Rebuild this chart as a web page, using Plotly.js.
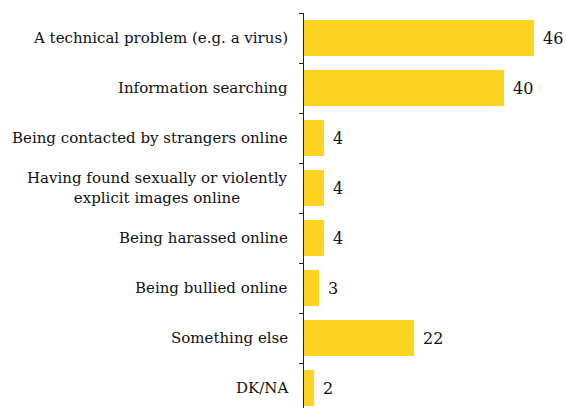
<!DOCTYPE html>
<html><head><meta charset="utf-8">
<script src="https://cdn.plot.ly/plotly-3.0.1.min.js"></script>
<style>body{margin:0;background:#fff}#c{width:566px;height:408px}</style>
</head><body><div id="c"></div>
<script>
const categories = ["A technical problem (e.g. a virus)","Information searching","Being contacted by strangers online","Having found sexually or violently<br>explicit images online","Being harassed online","Being bullied online","Something else","DK/NA"];
const values = [46,40,4,4,4,3,22,2];
const barColor = "#FDD422";
const font = "DejaVu Serif";
const ann = [];
categories.forEach((c,i)=>{
  ann.push({x:0,xref:'x',y:c,yref:'y',text:c,showarrow:false,xanchor:'right',align:'center',xshift:-14,font:{family:font,size:15,color:'#111'}});
  ann.push({x:values[i],xref:'x',y:c,yref:'y',text:String(values[i]),showarrow:false,xanchor:'left',xshift:7,font:{family:font,size:16,color:'#111'}});
});
Plotly.newPlot('c',[{type:'bar',orientation:'h',y:categories,x:values,marker:{color:barColor},hoverinfo:'none'}],{
  width:566,height:408,margin:{l:304,r:0,t:13,b:0},
  paper_bgcolor:'#fff',plot_bgcolor:'#fff',bargap:0.28,showlegend:false,
  xaxis:{range:[0,52.4],visible:false,fixedrange:true},
  yaxis:{type:'category',range:[7.4,-0.5],showticklabels:false,showline:true,linecolor:'#222',linewidth:1,ticks:'outside',tickson:'boundaries',ticklen:4,tickcolor:'#222',showgrid:false,zeroline:false},
  annotations:ann
},{staticPlot:true});
</script></body></html>
